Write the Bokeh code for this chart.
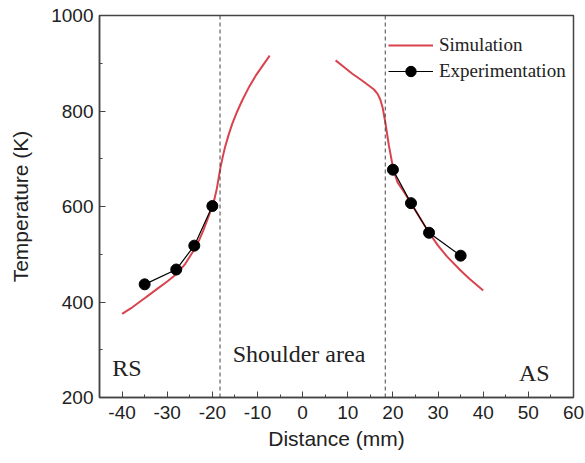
from bokeh.plotting import figure
from bokeh.models import (Range1d, SingleIntervalTicker, Span, Label, Legend, LegendItem,
                          PrintfTickFormatter)
from bokeh.embed import file_html
from bokeh.resources import INLINE

# Simulation (RS side and AS side)
sim_left_x = [-40, -38, -36, -35, -34, -32, -30, -28, -26, -24, -23, -22, -21, -20, -19.5,
              -19, -18.6, -18.2, -17.7, -17.2, -16.4, -15.6, -14.5, -13.4, -12, -10.4, -9, -7.3]
sim_left_y = [375, 387, 401, 408, 415, 429, 443, 458, 480, 510, 528, 550, 575, 600, 617,
              638, 660, 682, 704, 724, 750, 773, 799, 822, 848, 874, 893, 916]
sim_right_x = [7.3, 9, 11, 13, 14.7, 15.8, 16.6, 17.2, 17.7, 18.3, 19.1, 20.1, 21, 22, 23,
               24, 26, 28, 30, 32, 35, 37, 40]
sim_right_y = [906, 893, 878, 865, 853, 845, 836, 824, 808, 777, 728, 677, 651, 637, 622,
               607, 576, 545, 518, 495, 466, 448, 424]

# Experimentation
exp_left_x = [-35, -28, -24, -20]
exp_left_y = [437, 468, 518, 601]
exp_right_x = [20, 24, 28, 35]
exp_right_y = [677, 607, 545, 497]

# Shoulder boundaries
boundaries = [-18.3, 18.3]

SANS = "Liberation Sans"
SERIF = "Liberation Serif"
RED = "#d9434e"

p = figure(width=585, height=463, output_backend="svg", toolbar_location=None,
           x_range=Range1d(-45, 60), y_range=Range1d(200, 1000),
           min_border_left=99, min_border_right=12, min_border_top=15, min_border_bottom=66)
p.grid.visible = False
p.outline_line_color = "#444444"
p.outline_line_width = 1.5
p.background_fill_color = "white"
p.border_fill_color = "white"

p.xaxis.ticker = SingleIntervalTicker(interval=10, num_minor_ticks=2)
p.yaxis.ticker = SingleIntervalTicker(interval=200, num_minor_ticks=2)
for ax in (p.xaxis[0], p.yaxis[0]):
    ax.formatter = PrintfTickFormatter(format="%d")
    ax.major_tick_in = 6
    ax.major_tick_out = 0
    ax.minor_tick_in = 3
    ax.minor_tick_out = 0
    ax.axis_line_color = "#444444"
    ax.axis_line_width = 1.5
    ax.major_tick_line_color = "#444444"
    ax.minor_tick_line_color = "#444444"
    ax.major_label_text_font = SANS
    ax.major_label_text_font_size = "19px"
    ax.major_label_text_color = "#222222"
    ax.axis_label_text_font = SANS
    ax.axis_label_text_font_size = "21px"
    ax.axis_label_text_font_style = "normal"
    ax.axis_label_text_color = "#222222"

p.xaxis.axis_label = "Distance (mm)"
p.yaxis.axis_label = "Temperature (K)"
p.xaxis.major_label_standoff = 8
p.xaxis.axis_label_standoff = 5
p.yaxis.major_label_standoff = 6
p.yaxis.axis_label_standoff = 16

for b in boundaries:
    p.add_layout(Span(location=b, dimension="height", line_color="#444444",
                      line_width=1, line_dash="4 3"))

s1 = p.line(sim_left_x, sim_left_y, line_color=RED, line_width=2, line_join="round")
s2 = p.line(sim_right_x, sim_right_y, line_color=RED, line_width=2, line_join="round")
e1 = p.line(exp_left_x, exp_left_y, line_color="black", line_width=1.2)
e2 = p.line(exp_right_x, exp_right_y, line_color="black", line_width=1.2)
c1 = p.scatter(exp_left_x, exp_left_y, size=11, color="black")
c2 = p.scatter(exp_right_x, exp_right_y, size=11, color="black")

legend = Legend(items=[LegendItem(label="Simulation", renderers=[s1]),
                       LegendItem(label="Experimentation", renderers=[e1, c1])],
                location=(289, 313))
legend.border_line_color = None
legend.background_fill_alpha = 0
legend.padding = 0
legend.margin = 0
legend.spacing = 0
legend.glyph_width = 45
legend.glyph_height = 26
legend.label_height = 26
legend.label_standoff = 6
legend.label_text_font = SERIF
legend.label_text_font_size = "19px"
legend.label_text_color = "#222222"
p.add_layout(legend)

for txt, x, y in [("RS", -42.2, 261), ("Shoulder area", -15.5, 292), ("AS", 47.9, 252)]:
    p.add_layout(Label(x=x, y=y, text=txt, text_font=SERIF, text_font_size="24px",
                       text_color="#222222", text_baseline="alphabetic"))

open("out.html", "w").write(file_html(p, INLINE))
